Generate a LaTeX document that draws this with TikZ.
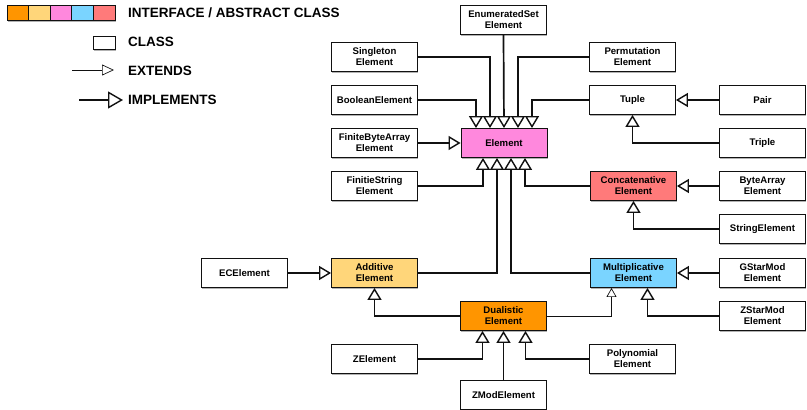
\documentclass[tikz,border=0pt]{standalone}
\usepackage{fontspec}
\setmainfont{Liberation Sans}
\usetikzlibrary{arrows.meta,calc,shadows}
\definecolor{cOrange}{HTML}{FF9500}
\definecolor{cYellow}{HTML}{FFD67A}
\definecolor{cPink}{HTML}{FF88DD}
\definecolor{cBlue}{HTML}{7AD4FF}
\definecolor{cRed}{HTML}{FF7A7A}
\definecolor{cLine}{HTML}{111111}
\tikzset{
  box/.style={draw=cLine, line width=0.9pt, fill=white, minimum width=86pt, minimum height=29pt,
    inner sep=0pt, align=center, font=\bfseries\fontsize{9.6}{11}\selectfont,
    drop shadow={shadow xshift=0.8pt, shadow yshift=-1.6pt, opacity=0.3, fill=black}},
  impl/.style={draw=cLine, line width=1.7pt, line join=miter,
    -{Triangle[open, length=12pt, width=14pt, line width=1.4pt]}},
  ext/.style={draw=cLine, line width=0.7pt,
    -{Triangle[open, length=9pt, width=10pt, line width=0.7pt]}},
  legtext/.style={anchor=west, inner sep=0pt, font=\bfseries\fontsize{13.5}{15}\selectfont},
  legbar/.style={draw=cLine, line width=0.9pt, minimum width=21.6pt, minimum height=15pt, inner sep=0pt},
}
\begin{document}
\begin{tikzpicture}[x=1pt,y=-1pt]
\useasboundingbox (0,0) rectangle (807,410);
% legend
\fill[black, opacity=0.3] (8,6.6) rectangle (115.8,21.6);
\node[legbar, fill=cOrange] (l1) at (17.8,12.5) {};
\node[legbar, fill=cYellow] (l2) at (39.4,12.5) {};
\node[legbar, fill=cPink] (l3) at (61.0,12.5) {};
\node[legbar, fill=cBlue] (l4) at (82.6,12.5) {};
\node[legbar, fill=cRed] (l5) at (104.2,12.5) {};
\node[legtext] (tif) at (128,13) {INTERFACE / ABSTRACT CLASS};
\node[box, minimum width=22pt, minimum height=13pt] (lclass) at (104,42.5) {};
\node[legtext] (tcl) at (128,42) {CLASS};
\coordinate (e1) at (72,70);
\coordinate (e2) at (114,70);
\draw[draw=cLine, line width=0.7pt, -{Triangle[open, length=12pt, width=11pt, line width=0.7pt]}] (e1) -- (e2);
\node[legtext] (tex) at (128,71) {EXTENDS};
\coordinate (i1) at (79,100);
\coordinate (i2) at (123,100);
\draw[draw=cLine, line width=1.7pt, -{Triangle[open, length=15pt, width=17pt, line width=1.4pt]}] (i1) -- (i2);
\node[legtext] (tim) at (128,100) {IMPLEMENTS};
% nodes
\node[box] (enum) at (503.5,20) {EnumeratedSet\\Element};
\node[box] (single) at (374.5,57) {Singleton\\Element};
\node[box] (perm) at (632.5,57) {Permutation\\Element};
\node[box] (bool) at (374.5,100) {BooleanElement};
\node[box] (tuple) at (632.5,100) {Tuple};
\node[box] (pair) at (762.5,100) {Pair};
\node[box] (fba) at (374.5,143) {FiniteByteArray\\Element};
\node[box, fill=cPink] (elem) at (504,143) {Element};
\node[box] (triple) at (762.5,143) {Triple};
\node[box] (fstr) at (374.5,186) {FinitieString\\Element};
\node[box, fill=cRed] (concat) at (633.5,186) {Concatenative\\Element};
\node[box] (bytearr) at (762.5,186) {ByteArray\\Element};
\node[box] (strel) at (762.5,229) {StringElement};
\node[box] (ec) at (244.5,273) {ECElement};
\node[box, fill=cYellow] (add) at (374.5,273) {Additive\\Element};
\node[box, fill=cBlue] (mult) at (633.5,273) {Multiplicative\\Element};
\node[box] (gstar) at (762.5,273) {GStarMod\\Element};
\node[box] (zstar) at (762.5,316) {ZStarMod\\Element};
\node[box, fill=cOrange] (dual) at (503.5,316) {Dualistic\\Element};
\node[box] (zel) at (374.5,359) {ZElement};
\node[box] (poly) at (632.5,359) {Polynomial\\Element};
\node[box] (zmod) at (503.5,395) {ZModElement};
% connectors
\draw[impl] (enum.south) -- (elem.north);
\draw[impl] (single.east) -| ($(elem.north)+(-14,0)$);
\draw[impl] (perm.west) -| ($(elem.north)+(14,0)$);
\draw[impl] (bool.east) -| ($(elem.north)+(-28,0)$);
\draw[impl] (tuple.west) -| ($(elem.north)+(28,0)$);
\draw[impl] (fba.east) -- (elem.west);
\draw[impl] (pair.west) -- (tuple.east);
\draw[impl] (triple.west) -| (tuple.south);
\draw[impl] (bytearr.west) -- (concat.east);
\draw[impl] (strel.west) -| (concat.south);
\draw[impl] (fstr.east) -| ($(elem.south)+(-21,0)$);
\draw[impl] (add.east) -| ($(elem.south)+(-7,0)$);
\draw[impl] (mult.west) -| ($(elem.south)+(7,0)$);
\draw[impl] (concat.west) -| ($(elem.south)+(21,0)$);
\draw[impl] (ec.east) -- (add.west);
\draw[impl] (dual.west) -| (add.south);
\draw[ext] (dual.east) -| ($(mult.south)+(-22,0)$);
\draw[impl] (zstar.west) -| ($(mult.south)+(14,0)$);
\draw[impl] (gstar.west) -- (mult.east);
\draw[impl] (zel.east) -| ($(dual.south)+(-21,0)$);
\draw[impl] (zmod.north) -- (dual.south);
\draw[impl] (poly.west) -| ($(dual.south)+(22,0)$);
\end{tikzpicture}
\end{document}
